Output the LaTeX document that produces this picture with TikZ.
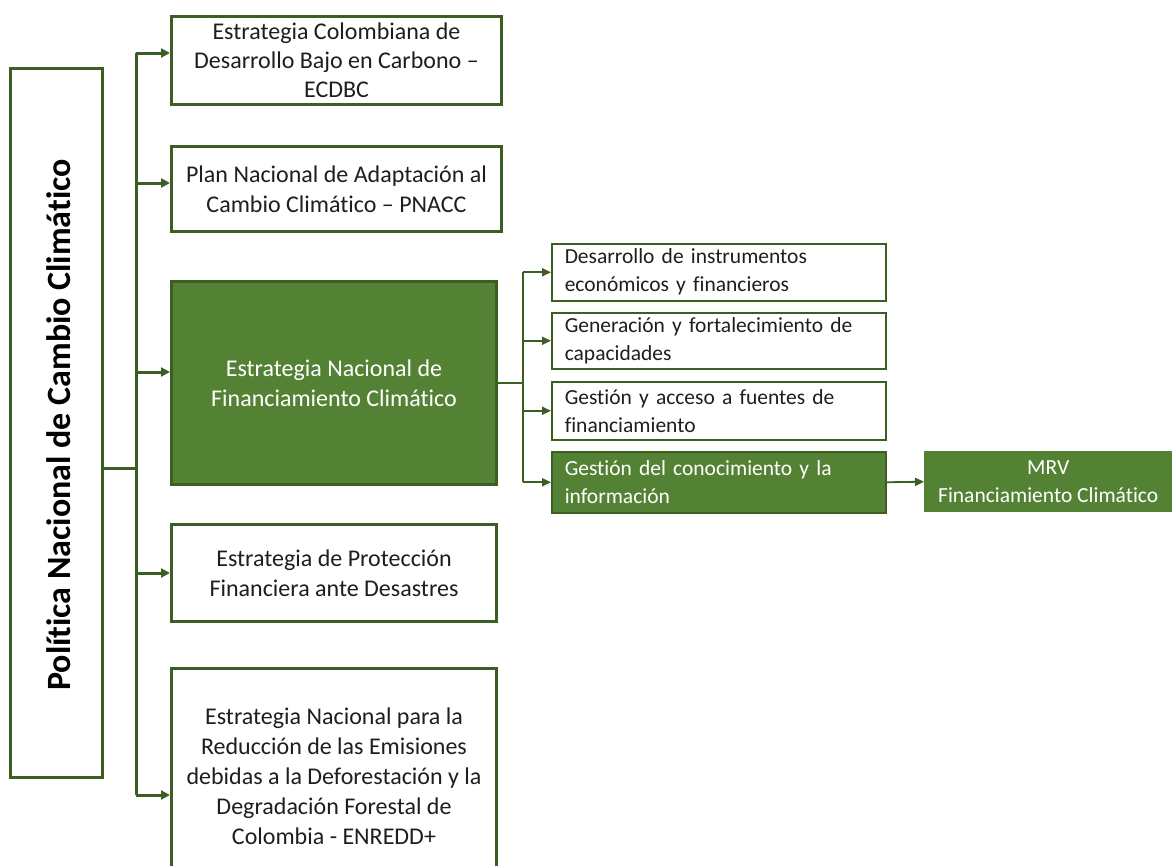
\documentclass[tikz,border=0pt]{standalone}
\usepackage{fontspec}
\setmainfont{Carlito}[Ligatures=NoCommon]
\usetikzlibrary{arrows.meta,calc}
\definecolor{dgreen}{HTML}{3B5E23}
\definecolor{fgreen}{HTML}{548235}
\definecolor{txt}{HTML}{1E1E1E}
\begin{document}
\begin{tikzpicture}[x=1pt,y=-1pt,
  mainbox/.style={draw=dgreen,line width=3pt,fill=white,anchor=north west,align=center,text=txt,
    font=\fontsize{24}{30}\selectfont,inner sep=0pt},
  mainfill/.style={mainbox,fill=fgreen,text=white},
  subbox/.style={draw=dgreen,line width=1.5pt,fill=white,anchor=north west,align=left,text=txt,
    font=\fontsize{21.5}{28}\selectfont,inner xsep=13pt,inner ysep=0pt,text width=308pt},
  subfill/.style={subbox,fill=fgreen,text=white},
  mrvbox/.style={fill=fgreen,anchor=north west,align=center,text=white,
    font=\fontsize{21.5}{28}\selectfont,inner sep=0pt},
  conn/.style={draw=dgreen,line width=3pt},
  arr/.style={conn,-{Triangle[length=9pt,width=9pt]}},
  sconn/.style={draw=dgreen,line width=1.8pt},
  sarr/.style={sconn,-{Triangle[length=9pt,width=8pt]}}]
\useasboundingbox (0,0) rectangle (1172,865);

% left title box
\node[draw=dgreen,line width=3pt,minimum width=92pt,minimum height=709pt,inner sep=0pt] (L) at (56,422.5) {};
\node[rotate=90,font=\fontsize{34}{40}\bfseries\selectfont,text=black] (Lt) at (59,425) {Política Nacional de Cambio Climático};

% main boxes
\node[mainbox,minimum width=330pt,minimum height=88pt,font=\fontsize{24}{29}\selectfont] (b1) at (170,15)
  {Estrategia Colombiana de\\Desarrollo Bajo en Carbono –\\ECDBC};
\node[mainbox,minimum width=330pt,minimum height=85pt] (b2) at (170,145)
  {Plan Nacional de Adaptación al\\Cambio Climático – PNACC};
\node[mainfill,minimum width=325pt,minimum height=203pt] (b3) at (170,280)
  {Estrategia Nacional de\\Financiamiento Climático};
\node[mainbox,minimum width=325pt,minimum height=97pt] (b4) at (170,523)
  {Estrategia de Protección\\Financiera ante Desastres};
\node[mainbox,minimum width=325pt,minimum height=216pt] (b5) at (170,667)
  {Estrategia Nacional para la\\Reducción de las Emisiones\\debidas a la Deforestación y la\\Degradación Forestal de\\Colombia - ENREDD+};

% arrow targets on the main boxes
\coordinate (e1) at ($(b1.north west)+(0,38)$);
\coordinate (e2) at ($(b2.north west)+(0,38)$);
\coordinate (e3) at ($(b3.north west)+(0,92)$);
\coordinate (e4) at ($(b4.north west)+(0,50)$);
\coordinate (e5) at ($(b5.north west)+(0,128)$);

% trunk
\coordinate (tx) at (136,0);
\coordinate (j) at (136,468);
\draw[conn] (L.east |- j) -- (j);
\draw[conn] (tx |- e1) -- (tx |- e5);
\foreach \e in {e1,e2,e3,e4,e5}{
  \draw[arr] (tx |- \e) -- (\e);
}

% sub boxes
\node[subbox,minimum height=57pt] (s1) at (551,243)
  {Desarrollo de instrumentos\\económicos y financieros};
\node[subbox,minimum height=56pt] (s2) at (551,312)
  {Generación y fortalecimiento de\\capacidades};
\node[subbox,minimum height=58pt] (s3) at (551,381)
  {Gestión y acceso a fuentes de\\financiamiento};
\node[subfill,minimum height=61pt] (s4) at (551,451)
  {Gestión del conocimiento y la\\información};
\node[mrvbox,minimum width=248pt,minimum height=61pt] (m) at (924,451)
  {MRV\\Financiamiento Climático};

\coordinate (rx) at (523,0);
\draw[sconn] (b3.east) -- (rx |- b3.east);
\draw[sconn] (rx |- s1.west) -- (rx |- s4.west);
\foreach \s in {s1,s2,s3,s4}{
  \draw[sarr] (rx |- \s.west) -- (\s.west);
}
\draw[sarr] (s4.east) -- (m.west);
\end{tikzpicture}
\end{document}
